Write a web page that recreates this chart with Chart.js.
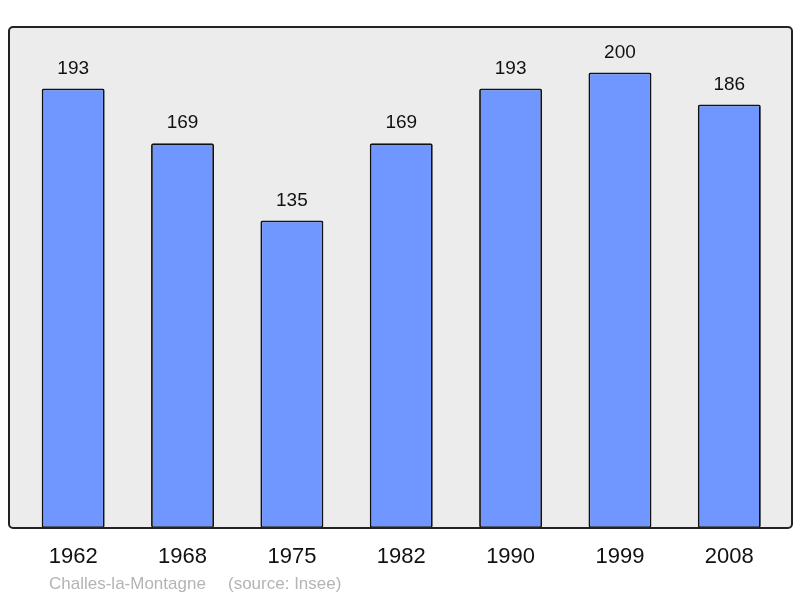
<!DOCTYPE html>
<html>
<head>
<meta charset="utf-8">
<script src="https://cdn.jsdelivr.net/npm/chart.js@4/dist/chart.umd.min.js"></script>
<style>
  html, body { margin: 0; padding: 0; background: #fff; }
  #wrap { width: 800px; height: 598px; position: relative; }
</style>
</head>
<body>
<div id="wrap"><canvas id="c" width="800" height="598"></canvas></div>
<script>
  const years = ['1962', '1968', '1975', '1982', '1990', '1999', '2008'];
  const population = [193, 169, 135, 169, 193, 200, 186];

  // frame + labels drawn around the chart area
  const decor = {
    id: 'decor',
    beforeDraw(chart) {
      const ctx = chart.ctx;
      ctx.save();
      ctx.beginPath();
      ctx.roundRect(9, chart.chartArea.top, 783, chart.chartArea.bottom - chart.chartArea.top, 4);
      ctx.fillStyle = '#ececec';
      ctx.fill();
      ctx.restore();
    },
    afterDatasetsDraw(chart) {
      const ctx = chart.ctx;
      const a = chart.chartArea;
      ctx.save();
      ctx.beginPath();
      ctx.roundRect(9, a.top, 783, a.bottom - a.top, 4);
      ctx.lineWidth = 2;
      ctx.strokeStyle = '#222';
      ctx.stroke();

      const xs = chart.scales.x, ys = chart.scales.y;
      ctx.fillStyle = '#111';
      ctx.textAlign = 'center';
      ctx.textBaseline = 'middle';
      ctx.font = '19px "Liberation Sans", Arial, sans-serif';
      population.forEach((v, i) => {
        ctx.fillText(String(v), xs.getPixelForValue(i), ys.getPixelForValue(v) - 20);
      });
      ctx.font = '22px "Liberation Sans", Arial, sans-serif';
      years.forEach((y, i) => {
        ctx.fillText(y, xs.getPixelForValue(i), 557);
      });
      ctx.fillStyle = '#b4b4b4';
      ctx.textAlign = 'left';
      ctx.font = '17px "Liberation Sans", Arial, sans-serif';
      ctx.fillText('Challes-la-Montagne', 49, 584);
      ctx.fillText('(source: Insee)', 228, 584);
      ctx.restore();
    }
  };

  new Chart(document.getElementById('c'), {
    type: 'bar',
    data: {
      labels: years,
      datasets: [{
        data: population,
        backgroundColor: '#7097ff',
        borderColor: '#111',
        borderWidth: 1.8,
        borderRadius: 2,
        borderSkipped: false,
        barPercentage: 0.576,
        categoryPercentage: 1
      }]
    },
    options: {
      responsive: false,
      animation: false,
      layout: { padding: { left: 18.5, right: 16, top: 27, bottom: 70 } },
      plugins: { legend: { display: false }, tooltip: { enabled: false } },
      scales: {
        x: { display: false },
        y: { display: false, min: 0, max: 220 }
      }
    },
    plugins: [decor]
  });
</script>
</body>
</html>
